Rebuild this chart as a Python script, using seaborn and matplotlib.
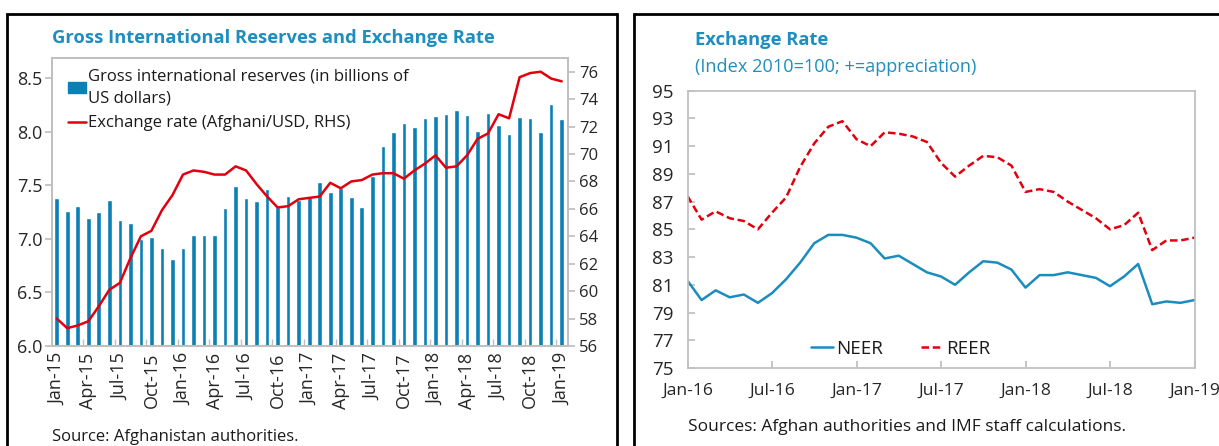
import matplotlib
matplotlib.use("Agg")
import matplotlib.pyplot as plt
import matplotlib.patches as mpatches
from matplotlib.lines import Line2D
import numpy as np
import pandas as pd
import seaborn as sns

# ── Data: left panel (monthly, Jan-15 .. Jan-19) ─────────────
RESERVES = [7.38, 7.26, 7.31, 7.20, 7.25, 7.36, 7.18, 7.15, 7.00, 7.02, 6.92, 6.81,
            6.92, 7.04, 7.04, 7.04, 7.29, 7.49, 7.38, 7.35, 7.47, 7.30, 7.40, 7.36,
            7.39, 7.53, 7.44, 7.48, 7.39, 7.30, 7.59, 7.87, 8.00, 8.08, 8.05, 8.13,
            8.15, 8.17, 8.20, 8.16, 8.01, 8.18, 8.06, 7.98, 8.14, 8.13, 8.00, 8.26, 8.12]
AFN_USD = [58.0, 57.3, 57.5, 57.8, 58.9, 60.1, 60.6, 62.4, 64.0, 64.4, 65.9, 67.0,
           68.5, 68.8, 68.7, 68.5, 68.5, 69.1, 68.8, 67.8, 66.9, 66.1, 66.2, 66.7,
           66.8, 66.9, 67.9, 67.5, 68.0, 68.1, 68.5, 68.6, 68.6, 68.2, 68.8, 69.3,
           69.9, 69.0, 69.1, 69.9, 71.1, 71.5, 72.9, 72.6, 75.6, 75.9, 76.0, 75.5, 75.3]
LEFT_TICKS = ["Jan-15", "Apr-15", "Jul-15", "Oct-15", "Jan-16", "Apr-16", "Jul-16",
              "Oct-16", "Jan-17", "Apr-17", "Jul-17", "Oct-17", "Jan-18", "Apr-18",
              "Jul-18", "Oct-18", "Jan-19"]

# ── Data: right panel (monthly, Jan-16 .. Jan-19) ────────────
NEER = [81.3, 79.9, 80.6, 80.1, 80.3, 79.7, 80.4, 81.4, 82.6, 84.0, 84.6, 84.6,
        84.4, 84.0, 82.9, 83.1, 82.5, 81.9, 81.6, 81.0, 81.9, 82.7, 82.6, 82.1,
        80.8, 81.7, 81.7, 81.9, 81.7, 81.5, 80.9, 81.6, 82.5, 79.6, 79.8, 79.7, 79.9]
REER = [87.4, 85.7, 86.3, 85.8, 85.6, 85.0, 86.2, 87.3, 89.5, 91.2, 92.4, 92.8,
        91.5, 91.0, 92.0, 91.9, 91.7, 91.3, 89.8, 88.8, 89.6, 90.3, 90.2, 89.6,
        87.7, 87.9, 87.7, 87.0, 86.4, 85.8, 85.0, 85.3, 86.2, 83.5, 84.2, 84.2, 84.4]
RIGHT_TICKS = ["Jan-16", "Jul-16", "Jan-17", "Jul-17", "Jan-18", "Jul-18", "Jan-19"]

BLUE = "#0A80B4"
LINE_BLUE = "#1A8CBE"
RED = "#E2000F"
TITLE = "#1E8EC0"
SPINE = "#BFBFBF"

sns.set_theme(style="white")
plt.rcParams["font.family"] = ["Open Sans", "DejaVu Sans"]
plt.rcParams["text.color"] = "#1a1a1a"

fig = plt.figure(figsize=(12.19, 4.46), dpi=100)

# panel frames
fig.patches.append(mpatches.Rectangle((7 / 1219, -0.05), 610 / 1219, 1.05 - 14 / 446,
                                      transform=fig.transFigure, fill=False,
                                      edgecolor="black", linewidth=2))
fig.patches.append(mpatches.Rectangle((634 / 1219, -0.05), 0.5, 1.05 - 14 / 446,
                                      transform=fig.transFigure, fill=False,
                                      edgecolor="black", linewidth=2))

# ── Left: reserves bars + exchange rate line ────────────────
ax = fig.add_axes([52 / 1219, 1 - 346 / 446, 516 / 1219, 288 / 446])
n = len(RESERVES)
df_l = pd.DataFrame({"m": np.arange(n), "res": RESERVES, "rate": AFN_USD})
sns.barplot(data=df_l, x="m", y="res", color=BLUE, saturation=1, width=0.44,
            ax=ax, native_scale=True)
ax.set_ylim(6.0, 8.69)
ax.set_xlim(-0.45, 48.6)
ax.set_yticks(np.arange(6.0, 8.51, 0.5))
ax.set_yticklabels([f"{v:.1f}" for v in np.arange(6.0, 8.51, 0.5)], fontsize=13)
ax.set_xticks(np.arange(0, n, 3))
ax.set_xticklabels(LEFT_TICKS, rotation=90, fontsize=13)
ax.set_xticks(np.arange(2.5, n, 3), minor=True)
ax.tick_params(axis="x", which="major", length=0, pad=5)
ax.tick_params(axis="x", which="minor", direction="in", length=5, color=SPINE, bottom=True)
ax.tick_params(axis="y", direction="out", length=5, color=SPINE, left=True, pad=2)
ax.set_xlabel("")
ax.set_ylabel("")
for s in ax.spines.values():
    s.set_color(SPINE)

ax2 = ax.twinx()
sns.lineplot(data=df_l, x="m", y="rate", color=RED, linewidth=1.8, ax=ax2)
ax2.set_ylim(56, 77)
ax2.set_yticks(np.arange(56, 77, 2))
ax2.set_yticklabels([str(v) for v in range(56, 77, 2)], fontsize=12)
ax2.tick_params(axis="y", direction="out", length=5, color=SPINE, right=True, pad=3)
ax2.set_ylabel("")
for s in ax2.spines.values():
    s.set_color(SPINE)

handles = [mpatches.Patch(color=BLUE), Line2D([], [], color=RED, linewidth=1.8)]
leg = ax.legend(handles, ["Gross international reserves (in billions of\nUS dollars)",
                          "Exchange rate (Afghani/USD, RHS)"],
                loc="upper left", bbox_to_anchor=(0.01, 1.0), frameon=False, fontsize=12,
                handlelength=1.1, handleheight=0.6, handletextpad=0.1, labelspacing=0.55,
                borderaxespad=0.25)
for t in leg.get_texts():
    t.set_linespacing(1.45)

fig.text(52 / 1219, 1 - 38 / 446, "Gross International Reserves and Exchange Rate",
         color=TITLE, fontsize=13.2, fontweight="bold", va="center", ha="left")
fig.text(52 / 1219, 1 - 437 / 446, "Source: Afghanistan authorities.",
         fontsize=12, va="center", ha="left")

# ── Right: NEER / REER ──────────────────────────────────────
bx = fig.add_axes([687.5 / 1219, 1 - 368 / 446, 507 / 1219, 277.3 / 446])
m = np.arange(len(NEER))
df_r = pd.DataFrame({"m": np.concatenate([m, m]),
                     "val": NEER + REER,
                     "series": ["NEER"] * len(NEER) + ["REER"] * len(REER)})
sns.lineplot(data=df_r, x="m", y="val", hue="series", style="series",
             palette={"NEER": LINE_BLUE, "REER": RED},
             dashes={"NEER": "", "REER": (3, 1.5)}, linewidth=1.8, ax=bx)
bx.set_xlim(0, 36)
bx.set_ylim(75, 95)
bx.set_yticks(np.arange(75, 96, 2))
bx.set_yticklabels([str(v) for v in range(75, 96, 2)], fontsize=13.5)
bx.set_xticks(np.arange(0, 37, 6))
bx.set_xticklabels(RIGHT_TICKS, fontsize=12.6)
bx.tick_params(axis="x", direction="in", length=5, color=SPINE, bottom=True, pad=11)
bx.tick_params(axis="y", direction="in", length=5, color=SPINE, left=True, pad=10)
bx.set_xlabel("")
bx.set_ylabel("")
for s in bx.spines.values():
    s.set_color(SPINE)
bx.legend(loc="lower center", bbox_to_anchor=(0.42, 0.0), ncol=2, frameon=False,
          fontsize=13.5, handlelength=1.2, handletextpad=0.15, columnspacing=2.0,
          borderaxespad=0.15)

fig.text(695 / 1219, 1 - 40 / 446, "Exchange Rate", color=TITLE, fontsize=13.2,
         fontweight="bold", va="center", ha="left")
fig.text(695 / 1219, 1 - 67 / 446, "(Index 2010=100; +=appreciation)", color=TITLE,
         fontsize=13.1, va="center", ha="left")
fig.text(688 / 1219, 1 - 427 / 446, "Sources: Afghan authorities and IMF staff calculations.",
         fontsize=12.5, va="center", ha="left")

fig.savefig("out.png", dpi=100)
